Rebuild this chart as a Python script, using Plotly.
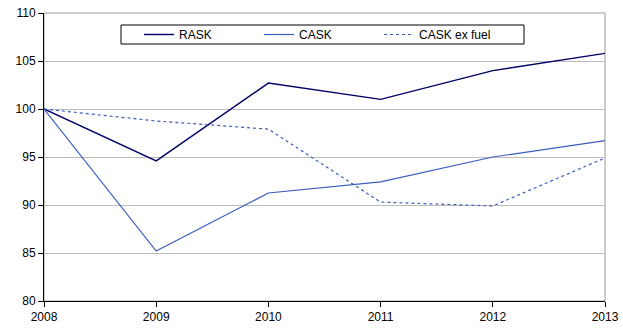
import plotly.graph_objects as go

years = [2008, 2009, 2010, 2011, 2012, 2013]
rask = [100.0, 94.6, 102.7, 101.0, 104.0, 105.8]
cask = [100.0, 85.2, 91.25, 92.4, 95.0, 96.7]
cask_ex_fuel = [100.0, 98.75, 97.9, 90.3, 89.9, 94.9]
y_ticks = [80, 85, 90, 95, 100, 105, 110]

W, H = 623, 334
ML, MR, MT, MB = 44, 18, 13, 33
PW, PH = W - ML - MR, H - MT - MB


def px_x(px):
    return (px - ML) / PW


def px_y(py):
    return (H - MB - py) / PH


fig = go.Figure()
fig.add_trace(go.Scatter(x=years, y=rask, mode="lines", name="RASK",
                         line=dict(color="#000066", width=1.4)))
fig.add_trace(go.Scatter(x=years, y=cask, mode="lines", name="CASK",
                         line=dict(color="#3A5BC0", width=1.2)))
fig.add_trace(go.Scatter(x=years, y=cask_ex_fuel, mode="lines", name="CASK ex fuel",
                         line=dict(color="#3A5BC0", width=1.2, dash="3px,3px")))

# plot-area frame
fig.add_shape(type="rect", xref="paper", yref="paper", x0=0, x1=1, y0=0, y1=1,
              line=dict(color="#999999", width=1), layer="below")
# legend box
fig.add_shape(type="rect", xref="paper", yref="paper",
              x0=px_x(121), x1=px_x(524), y0=px_y(44), y1=px_y(25),
              line=dict(color="black", width=1), fillcolor="white", layer="above")

fig.update_layout(
    width=W, height=H,
    margin=dict(l=ML, r=MR, t=MT, b=MB, autoexpand=False),
    paper_bgcolor="white", plot_bgcolor="white",
    font=dict(family="Liberation Sans, Arial, sans-serif", size=12, color="black"),
    showlegend=True,
    legend=dict(orientation="h", x=px_x(139), y=px_y(34.5), xanchor="left", yanchor="middle",
                borderwidth=0, bgcolor="rgba(0,0,0,0)",
                entrywidth=75, entrywidthmode="pixels",
                font=dict(size=12), tracegroupgap=0),
    xaxis=dict(range=[2008, 2013], tickvals=years, ticktext=[str(y) for y in years],
               showgrid=False, zeroline=False, showline=True, linecolor="black",
               linewidth=1, ticks="outside", ticklen=5, tickcolor="black"),
    yaxis=dict(range=[80, 110], tickvals=y_ticks, showgrid=True, gridcolor="#BBBBBB",
               gridwidth=1, zeroline=False, showline=True, linecolor="black",
               linewidth=1, ticks="outside", ticklen=5, tickcolor="black"),
)

fig.write_html("out.html")
